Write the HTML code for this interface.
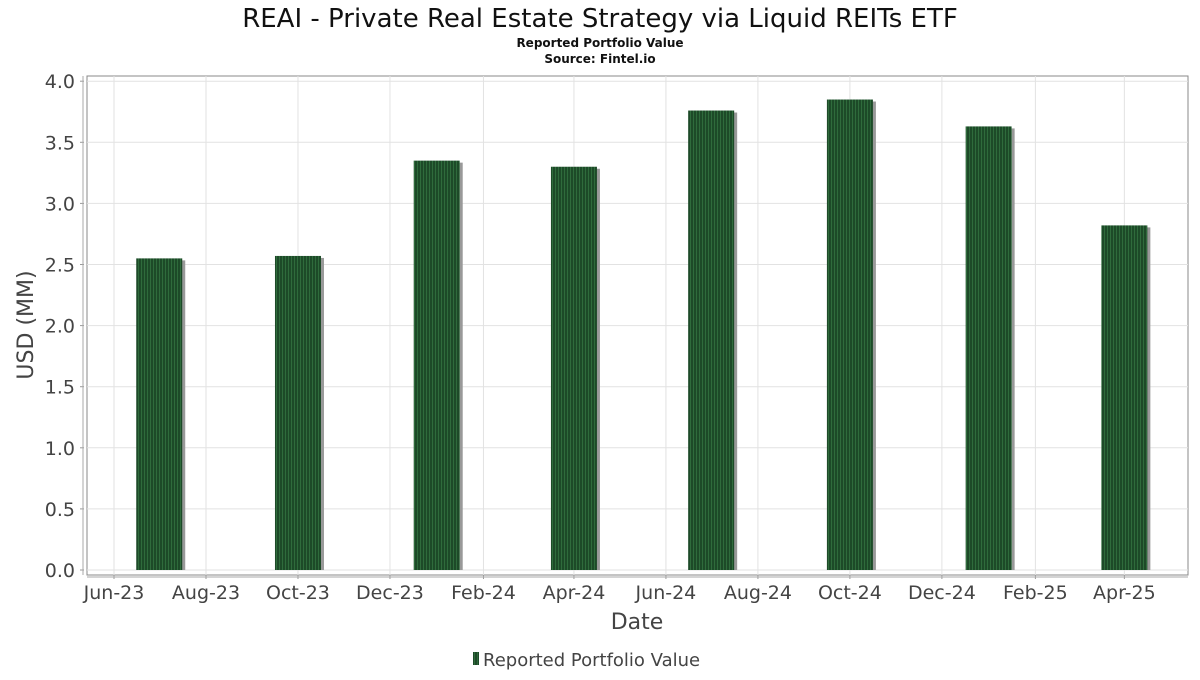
<!DOCTYPE html>
<html><head><meta charset="utf-8"><style>
body{margin:0;background:#fff;}
svg text{font-family:"DejaVu Sans","Liberation Sans",sans-serif;}
</style></head><body>
<svg id="chart" width="1200" height="675" xmlns="http://www.w3.org/2000/svg">
<defs>
<pattern id="stripes" width="3" height="10" patternUnits="userSpaceOnUse">
<rect width="3" height="10" fill="#1d4a28"/><rect width="1" height="10" fill="#2f6b3c"/>
</pattern>
</defs>
<text x="600" y="27" text-anchor="middle" font-size="26" fill="#111">REAI - Private Real Estate Strategy via Liquid REITs ETF</text>
<text x="600" y="47" text-anchor="middle" font-size="12" font-weight="bold" fill="#111">Reported Portfolio Value</text>
<text x="600" y="63" text-anchor="middle" font-size="12" font-weight="bold" fill="#111">Source: Fintel.io</text>
<rect x="87" y="76" width="1101" height="499" fill="#fff" stroke="#888"/>
<g id="grid"></g>
<g id="bars"></g>
<g id="axes"></g>
<text x="33" y="325" text-anchor="middle" font-size="22" fill="#444" transform="rotate(-90 33 325)">USD (MM)</text>
<text x="637" y="629" text-anchor="middle" font-size="22" fill="#444">Date</text>
<g>
<rect x="473" y="652" width="6" height="13" fill="url(#stripes)"/>
<text x="483" y="666" font-size="18" fill="#444">Reported Portfolio Value</text>
</g>
</svg>
<script>
const barDates = ["2023-07-01","2023-10-01","2024-01-01","2024-04-01","2024-07-01","2024-10-01","2025-01-01","2025-04-01"];
const barValues = [2.55,2.57,3.35,3.30,3.76,3.85,3.63,2.82];
const yTicks = [0,0.5,1.0,1.5,2.0,2.5,3.0,3.5,4.0];
const xTickDates = ["2023-06-01","2023-08-01","2023-10-01","2023-12-01","2024-02-01","2024-04-01","2024-06-01","2024-08-01","2024-10-01","2024-12-01","2025-02-01","2025-04-01"];
const xTickLabels = ["Jun-23","Aug-23","Oct-23","Dec-23","Feb-24","Apr-24","Jun-24","Aug-24","Oct-24","Dec-24","Feb-25","Apr-25"];

const NS="http://www.w3.org/2000/svg";
const t0=Date.UTC(2023,5,1), DAY=86400000;
function x(d){const t=Date.parse(d+"T00:00:00Z");return 114+(t-t0)/DAY*1.508;}
function y(v){return 570-v*122.2;}
function mk(tag,attrs,parent){const e=document.createElementNS(NS,tag);for(const k in attrs)e.setAttribute(k,attrs[k]);parent.appendChild(e);return e;}
const grid=document.getElementById('grid'),bars=document.getElementById('bars'),axes=document.getElementById('axes');

yTicks.forEach(v=>{
  const g=mk('line',{x1:87,x2:1188,y1:y(v),y2:y(v),stroke:'#e2e2e2'},grid);
  
  
  const tk=mk('line',{x1:80,x2:84,y1:y(v),y2:y(v),stroke:'#999'},axes);
  
  
  const t=mk('text',{x:75,y:y(v)+7,'text-anchor':'end','font-size':19,fill:'#444'},axes);
  t.textContent=v.toFixed(1);
  
  
});
xTickDates.forEach((d,i)=>{
  const g=mk('line',{x1:x(d),x2:x(d),y1:76,y2:575,stroke:'#e2e2e2'},grid);
  
  
  const tk=mk('line',{x1:x(d),x2:x(d),y1:575,y2:579,stroke:'#999'},axes);
  
  
  const t=mk('text',{x:x(d),y:599,'text-anchor':'middle','font-size':19,fill:'#444'},axes);
  t.textContent=xTickLabels[i];
  
  
});
mk('line',{x1:83,x2:83,y1:76,y2:575,stroke:'#aaa'},axes);
mk('line',{x1:87,x2:1188,y1:577,y2:577,stroke:'#aaa'},axes);

barValues.forEach((v,i)=>{
  const cx=x(barDates[i]), w=46;
  const s=mk('rect',{x:cx-w/2+3,y:y(v)+2,width:w,height:570-y(v)-2,fill:'#999'},bars);
  
  
  const b=mk('rect',{x:cx-w/2,y:y(v),width:w,height:570-y(v),fill:'url(#stripes)'},bars);
  
  
});
</script>
</body></html>
